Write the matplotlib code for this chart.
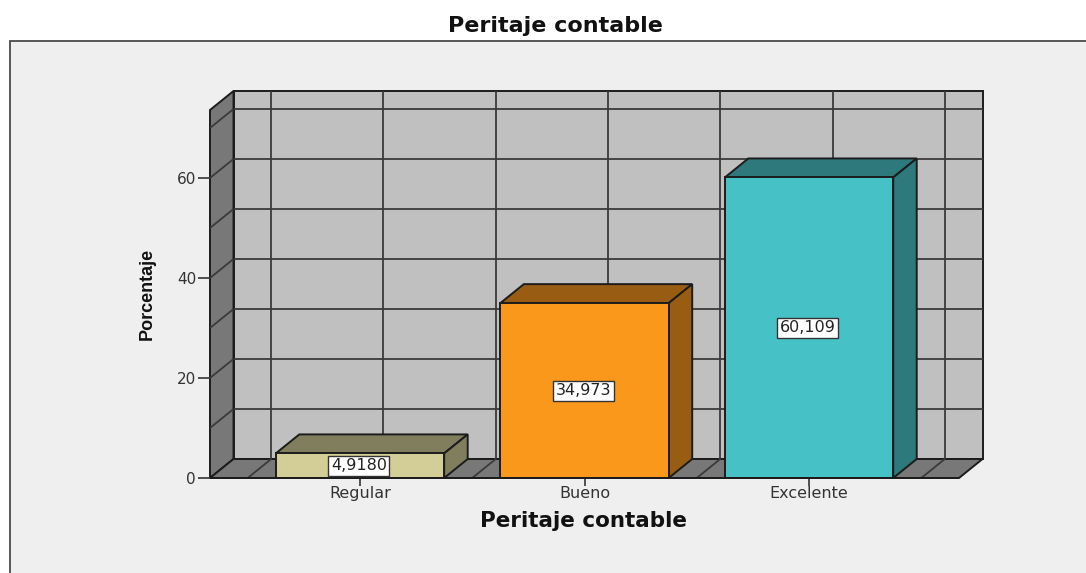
import matplotlib
matplotlib.use('Agg')
import matplotlib.pyplot as plt
from matplotlib.patches import Polygon, Rectangle

categories = ['Regular', 'Bueno', 'Excelente']
values = [4.918, 34.973, 60.109]
value_labels = ['4,9180', '34,973', '60,109']
front_colors = ['#d3ce97', '#fa981c', '#46c2c7']
dark_colors = ['#807e5c', '#985d13', '#2d797b']
y_ticks = [0, 20, 40, 60]
y_grid = [10, 20, 30, 40, 50, 60, 70]
x_grid = [-0.5, 0, 0.5, 1, 1.5, 2, 2.5]

W, H = 1086, 573
bar_width = 0.75
x_min, x_max = -0.668, 2.668
y_min, y_max = 0, 73.6
# Depth of the fake 3D box, in data units
dx = 0.1047
dy = 3.8
line_col = '#1c1c1c'
wall_col = '#c0c0c0'
side_col = '#787878'
back_col = '#efefef'

fig = plt.figure(figsize=(W / 100, H / 100), dpi=100, facecolor='white')

# Grey panel behind the chart, open on the right and bottom
fig.add_artist(Rectangle((10 / W, -0.1), 1.1, 1.1 - 41 / H, transform=fig.transFigure,
                         facecolor=back_col, edgecolor='#4a4a4a', linewidth=1.3, zorder=-1))

ax = fig.add_axes([210 / W, 1 - 478 / H, 749 / W, 368 / H])
ax.set_xlim(x_min, x_max)
ax.set_ylim(y_min, y_max)
ax.patch.set_visible(False)
for s in ax.spines.values():
    s.set_visible(False)


def poly(points, color, z, lw=1.4):
    ax.add_patch(Polygon(points, closed=True, facecolor=color, edgecolor=line_col,
                         linewidth=lw, zorder=z, clip_on=False, joinstyle='miter'))


def line(xs, ys, z=2, lw=1.3, color='#3a3a3a'):
    ax.plot(xs, ys, color=color, lw=lw, zorder=z, clip_on=False, solid_capstyle='butt')


# Back wall, left wall, floor
poly([(x_min + dx, dy), (x_max + dx, dy), (x_max + dx, y_max + dy), (x_min + dx, y_max + dy)], wall_col, 1)
poly([(x_min, 0), (x_min + dx, dy), (x_min + dx, y_max + dy), (x_min, y_max)], side_col, 1)
poly([(x_min, 0), (x_max, 0), (x_max + dx, dy), (x_min + dx, dy)], side_col, 1)

# Grid on the walls
for v in y_grid:
    line([x_min + dx, x_max + dx], [v + dy, v + dy])
    line([x_min, x_min + dx], [v, v + dy])
for g in x_grid:
    line([g + dx, g + dx], [dy, y_max + dy])
    line([g, g + dx], [0, dy])

# Bars: front face through ax.bar, top and side from the same values
for i, v in enumerate(values):
    left = i - bar_width / 2
    right = i + bar_width / 2
    z = 3 + i
    poly([(left, v), (right, v), (right + dx, v + dy), (left + dx, v + dy)], dark_colors[i], z)
    poly([(right, 0), (right + dx, dy), (right + dx, v + dy), (right, v)], dark_colors[i], z)
    ax.bar(i, v, width=bar_width, color=front_colors[i], edgecolor=line_col,
           linewidth=1.4, zorder=z + 0.5, clip_on=False)
    ax.text(i - 0.005, v / 2, value_labels[i], ha='center', va='center', fontsize=11.5,
            family='DejaVu Sans', color='#222222', zorder=10,
            bbox=dict(boxstyle='square,pad=0.16', facecolor='white', edgecolor='#333333', linewidth=1.0))

line([x_min, x_max], [0, 0], z=9, lw=1.4, color=line_col)

ax.set_xticks(range(len(categories)))
ax.set_xticklabels(categories, fontsize=11.5, color='#333333', family='DejaVu Sans')
ax.set_yticks(y_ticks)
ax.set_yticklabels([str(t) for t in y_ticks], fontsize=11, color='#333333', family='DejaVu Sans')
ax.tick_params(axis='x', length=6, width=1.2, color='#333333', pad=0)
ax.tick_params(axis='y', length=9, width=1.2, color='#333333', pad=1)

fig.text(555 / W, 1 - 26 / H, 'Peritaje contable', ha='center', va='center',
         fontsize=16, fontweight='bold', family='DejaVu Sans', color='#111111')
fig.text(584 / W, 1 - 521 / H, 'Peritaje contable', ha='center', va='center',
         fontsize=15.5, fontweight='bold', family='DejaVu Sans', color='#111111')
fig.text(147 / W, 1 - 294 / H, 'Porcentaje', ha='center', va='center', rotation=90,
         fontsize=13, fontweight='bold', family='Liberation Sans', color='#111111')

fig.savefig('out.png', dpi=100)
